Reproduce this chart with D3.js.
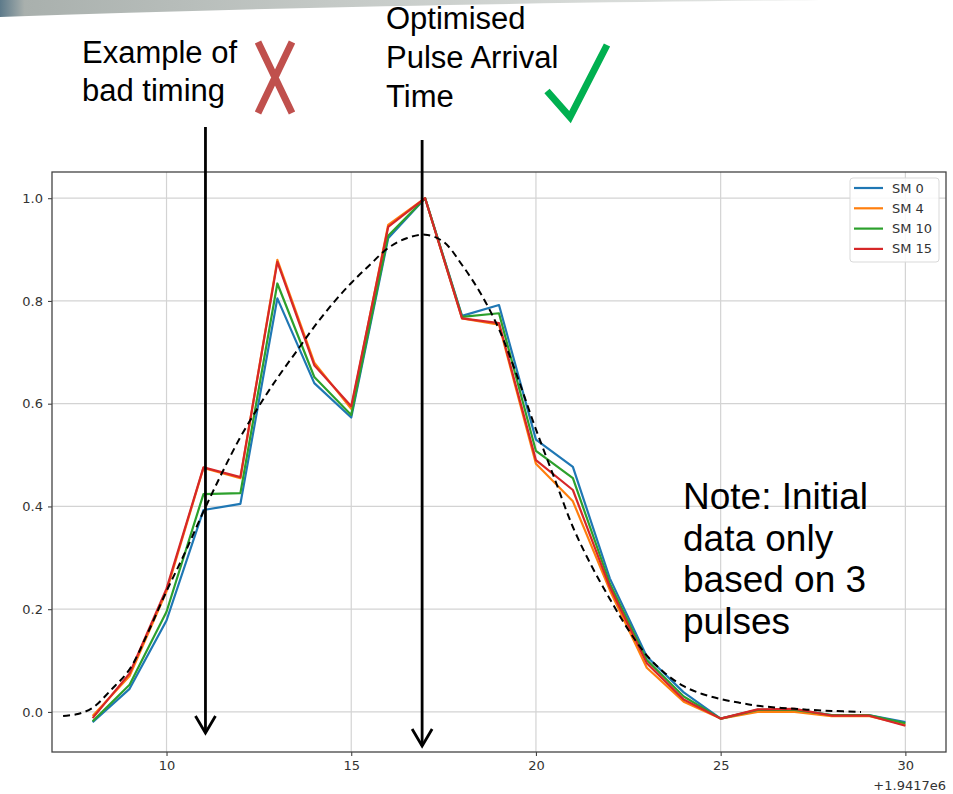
<!DOCTYPE html>
<html>
<head>
<meta charset="utf-8">
<script src="https://cdn.jsdelivr.net/npm/d3@7/dist/d3.min.js"></script>
<style>
  body { margin: 0; background: #fff; }
  svg { display: block; }
</style>
</head>
<body>
<div id="chart"></div>
<script>
// Pulse arrival timing plot, with slide annotations on top

const xValues = [8, 9, 10, 11, 12, 13, 14, 15, 16, 17, 18, 19, 20, 21, 22, 23, 24, 25, 26, 27, 28, 29, 30];
const sm0  = [-0.020, 0.045, 0.178, 0.393, 0.405, 0.805, 0.640, 0.573, 0.922, 1.0, 0.771, 0.792, 0.530, 0.477, 0.260, 0.108, 0.038, -0.013, 0.003, 0.004, -0.006, -0.006, -0.020];
const sm4  = [-0.008, 0.070, 0.235, 0.475, 0.455, 0.880, 0.680, 0.590, 0.948, 1.0, 0.766, 0.754, 0.483, 0.410, 0.237, 0.086, 0.020, -0.013, 0.000, 0.000, -0.008, -0.008, -0.025];
const sm10 = [-0.018, 0.053, 0.195, 0.424, 0.426, 0.834, 0.652, 0.578, 0.927, 1.0, 0.769, 0.776, 0.508, 0.455, 0.250, 0.101, 0.030, -0.013, 0.004, 0.004, -0.006, -0.006, -0.022];
const sm15 = [-0.012, 0.075, 0.240, 0.476, 0.457, 0.876, 0.675, 0.595, 0.944, 1.0, 0.766, 0.757, 0.490, 0.432, 0.243, 0.095, 0.024, -0.013, 0.005, 0.006, -0.007, -0.007, -0.027];
const seriesNames = ['SM 0', 'SM 4', 'SM 10', 'SM 15'];

// dashed fit curve
const fitX = [7.2, 7.6, 8, 8.5, 9, 9.5, 10, 10.5, 11, 11.5, 12, 12.5, 13, 13.5, 14, 14.5, 15, 15.5, 16, 16.5, 17, 17.5, 18, 18.5, 19, 19.5, 20, 20.5, 21, 21.5, 22, 22.5, 23, 23.5, 24, 24.5, 25, 25.5, 26, 27, 28, 28.8];
const fitY = [-0.008, -0.004, 0.008, 0.043, 0.083, 0.155, 0.235, 0.31, 0.39, 0.465, 0.535, 0.595, 0.65, 0.70, 0.75, 0.795, 0.835, 0.87, 0.903, 0.922, 0.929, 0.915, 0.87, 0.815, 0.745, 0.652, 0.55, 0.455, 0.36, 0.285, 0.22, 0.16, 0.11, 0.075, 0.05, 0.035, 0.025, 0.018, 0.012, 0.006, 0.002, 0.0];

const xTicks = [10, 15, 20, 25, 30];
const yTicks = [0.0, 0.2, 0.4, 0.6, 0.8, 1.0];
const offsetLabel = '+1.9417e6';

const colors = ['#1f77b4', '#ff7f0e', '#2ca02c', '#d62728'];

const W = 953, H = 794;
const plotLeft = 52, plotRight = 946, plotTop = 172, plotBottom = 752;

var svg = d3.select('#chart').append('svg')
    .attr('width', W)
    .attr('height', H);

// grey slide header strip in the corner
var defs = svg.append('defs');
var grad = defs.append('linearGradient').attr('id', 'hdr')
    .attr('x1', 0).attr('x2', 1).attr('y1', 0).attr('y2', 0);
grad.append('stop').attr('offset', '0%').attr('stop-color', '#5d7a8a');
grad.append('stop').attr('offset', '3%').attr('stop-color', '#a9b0ad');
grad.append('stop').attr('offset', '40%').attr('stop-color', '#c4c9c6');
grad.append('stop').attr('offset', '100%').attr('stop-color', '#e6e8e6');
svg.append('path')
    .attr('d', 'M0,0 L820,0 C600,2 300,6 0,17 Z')
    .attr('fill', 'url(#hdr)');

var x = d3.scaleLinear().domain([6.9, 31.1]).range([plotLeft, plotRight]);
var y = d3.scaleLinear().domain([-0.078, 1.051]).range([plotBottom, plotTop]);

var g = svg.append('g');

// grid
g.selectAll('.vgrid').data(xTicks).enter().append('line')
    .attr('x1', d => x(d)).attr('x2', d => x(d))
    .attr('y1', plotTop).attr('y2', plotBottom)
    .attr('stroke', '#d3d3d3').attr('stroke-width', 1.2);
g.selectAll('.hgrid').data(yTicks).enter().append('line')
    .attr('x1', plotLeft).attr('x2', plotRight)
    .attr('y1', d => y(d)).attr('y2', d => y(d))
    .attr('stroke', '#d3d3d3').attr('stroke-width', 1.2);

// axes
var xAxis = g.append('g')
    .attr('transform', 'translate(0,' + plotBottom + ')')
    .call(d3.axisBottom(x).tickValues(xTicks).tickSize(4).tickPadding(5).tickFormat(d3.format('d')));
var yAxis = g.append('g')
    .attr('transform', 'translate(' + plotLeft + ',0)')
    .call(d3.axisLeft(y).tickValues(yTicks).tickSize(4).tickPadding(5).tickFormat(d3.format('.1f')));
[xAxis, yAxis].forEach(function(a) {
    a.select('.domain').remove();
    a.selectAll('line').attr('stroke', '#444').attr('stroke-width', 1.1);
    a.selectAll('text').attr('fill', '#333')
        .style('font-family', 'DejaVu Sans').style('font-size', '13px');
});

// frame
g.append('rect')
    .attr('x', plotLeft).attr('y', plotTop)
    .attr('width', plotRight - plotLeft).attr('height', plotBottom - plotTop)
    .attr('fill', 'none').attr('stroke', '#444').attr('stroke-width', 1.3);

g.append('text')
    .attr('x', plotRight).attr('y', 790)
    .attr('text-anchor', 'end')
    .attr('fill', '#333')
    .style('font-family', 'DejaVu Sans').style('font-size', '13px')
    .text(offsetLabel);

// series
var allSeries = [sm0, sm4, sm10, sm15];
var line = d3.line().x(d => x(d[0])).y(d => y(d[1]));
allSeries.forEach(function(vals, i) {
    g.append('path')
        .datum(xValues.map((v, j) => [v, vals[j]]))
        .attr('d', line)
        .attr('fill', 'none')
        .attr('stroke', colors[i])
        .attr('stroke-width', 2.2)
        .attr('stroke-linejoin', 'round');
});

// fit curve
g.append('path')
    .datum(fitX.map((v, j) => [v, fitY[j]]))
    .attr('d', line.curve(d3.curveCatmullRom))
    .attr('fill', 'none')
    .attr('stroke', '#000')
    .attr('stroke-width', 2)
    .attr('stroke-dasharray', '7,4.5');

// legend
var lg = g.append('g');
lg.append('rect')
    .attr('x', 850).attr('y', 178).attr('width', 89).attr('height', 84)
    .attr('rx', 3)
    .attr('fill', '#fff').attr('fill-opacity', 0.85)
    .attr('stroke', '#d9d9d9');
seriesNames.forEach(function(name, i) {
    var yy = 188 + i * 20.3;
    lg.append('line')
        .attr('x1', 854).attr('x2', 883)
        .attr('y1', yy).attr('y2', yy)
        .attr('stroke', colors[i]).attr('stroke-width', 2.2);
    lg.append('text')
        .attr('x', 892).attr('y', yy + 4.5)
        .attr('fill', '#333')
        .style('font-family', 'DejaVu Sans').style('font-size', '13px')
        .text(name);
});

// slide annotations
var ann = svg.append('g');
var bigFont = 'Liberation Sans, Arial, sans-serif';

function addLines(lines, xPos, y0, step, size) {
    lines.forEach(function(t, i) {
        ann.append('text')
            .attr('x', xPos).attr('y', y0 + i * step)
            .attr('fill', '#000')
            .style('font-family', bigFont).style('font-size', size + 'px')
            .text(t);
    });
}
addLines(['Example of', 'bad timing'], 82, 63, 38, 31);
addLines(['Optimised', 'Pulse Arrival', 'Time'], 386, 29, 39, 31);
addLines(['Note: Initial', 'data only', 'based on 3', 'pulses'], 683, 509, 41.5, 37);

// arrows
function arrow(ax, y1, y2) {
    ann.append('line')
        .attr('x1', ax).attr('x2', ax).attr('y1', y1).attr('y2', y2)
        .attr('stroke', '#000').attr('stroke-width', 2.8);
    ann.append('path')
        .attr('d', 'M' + (ax - 10) + ',' + (y2 - 17) + ' L' + ax + ',' + y2 + ' L' + (ax + 10) + ',' + (y2 - 17))
        .attr('fill', 'none').attr('stroke', '#000').attr('stroke-width', 2.8);
}
arrow(x(11) + 2, 127, 733);
arrow(x(17) - 3, 140, 746);

// red cross
ann.append('path')
    .attr('d', 'M258,42 L292,113 M292,42 L258,113')
    .attr('stroke', '#c0504d').attr('stroke-width', 7).attr('fill', 'none');

// green tick
ann.append('path')
    .attr('d', 'M547,91 L570,117 L607,45')
    .attr('stroke', '#00b050').attr('stroke-width', 7).attr('fill', 'none');
</script>
</body>
</html>
